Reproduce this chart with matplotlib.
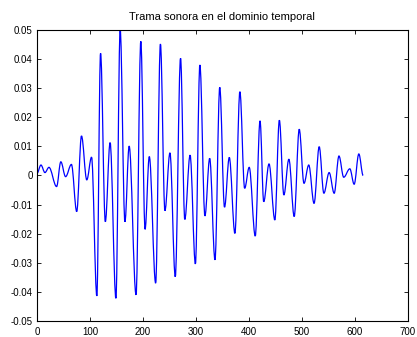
import matplotlib
matplotlib.use('Agg')
import matplotlib.pyplot as plt
from matplotlib.path import Path
from matplotlib.patches import PathPatch

plt.rcParams['font.family'] = ['Liberation Sans', 'DejaVu Sans']

# sample index and amplitude of the waveform turning points
muestra = [0, 7.5, 15, 22.6, 37, 45, 54, 65, 75, 84, 94, 103, 113, 120, 129, 138,
           149, 157, 166, 174, 187, 196, 204, 212, 224, 233, 241.5, 251, 261, 271,
           279, 289, 299, 307.5, 317, 326, 336, 345, 354, 363, 373.6, 383, 392,
           400.6, 412, 421, 428, 438, 449, 457.5, 466, 475.5, 485.5, 495, 504, 513,
           523, 532.7, 541.5, 551.5, 561, 570, 579, 590.5, 598.7, 607.5, 615.7]
amplitud = [0.0007, 0.0036, 0.0010, 0.0028, -0.0038, 0.0047, -0.0004, 0.0038,
            -0.0124, 0.0136, -0.0015, 0.0063, -0.0414, 0.0420, -0.0159, 0.0113,
            -0.0422, 0.0502, -0.0159, 0.0101, -0.0410, 0.0461, -0.0185, 0.0065,
            -0.0370, 0.0452, -0.0121, 0.0078, -0.0348, 0.0403, -0.0151, 0.0070,
            -0.0304, 0.0380, -0.0139, 0.0059, -0.0290, 0.0303, -0.0109, 0.0062,
            -0.0199, 0.0288, -0.0044, 0.0028, -0.0208, 0.0188, -0.0090, 0.0040,
            -0.0153, 0.0190, -0.0067, 0.0056, -0.0141, 0.0159, -0.0027, 0.0036,
            -0.0096, 0.0099, -0.0061, 0.0010, -0.0061, 0.0067, -0.0006, 0.0023,
            -0.0030, 0.0074, 0.0000]

xticks = [0, 100, 200, 300, 400, 500, 600, 700]
yticks = [-0.05, -0.04, -0.03, -0.02, -0.01, 0, 0.01, 0.02, 0.03, 0.04, 0.05]
yticklabels = ['-0.05', '-0.04', '-0.03', '-0.02', '-0.01', '0',
               '0.01', '0.02', '0.03', '0.04', '0.05']

fig = plt.figure(figsize=(4.17, 3.37), dpi=100)
ax = fig.add_axes([0.0887, 0.0475, 0.8893, 0.8635])

# smooth trace: cubic segments with flat tangents at each turning point
verts = [(muestra[0], amplitud[0])]
codes = [Path.MOVETO]
for i in range(len(muestra) - 1):
    x0, y0 = muestra[i], amplitud[i]
    x1, y1 = muestra[i + 1], amplitud[i + 1]
    d = 0.36 * (x1 - x0)
    verts += [(x0 + d, y0), (x1 - d, y1), (x1, y1)]
    codes += [Path.CURVE4] * 3
ax.add_patch(PathPatch(Path(verts, codes), facecolor='none',
                       edgecolor='#0000ff', linewidth=0.9))

ax.set_xlim(0, 700)
ax.set_ylim(-0.05, 0.05)
ax.set_xticks(xticks)
ax.set_yticks(yticks)
ax.set_yticklabels(yticklabels)
ax.tick_params(direction='in', top=True, right=True, length=3, width=0.6,
               labelsize=7)
ax.tick_params(axis='x', pad=4.5)
ax.tick_params(axis='y', pad=3)
for s in ax.spines.values():
    s.set_linewidth(0.8)
ax.set_title('Trama sonora en el dominio temporal', fontsize=8, pad=7)

fig.savefig('out.png', dpi=100)
